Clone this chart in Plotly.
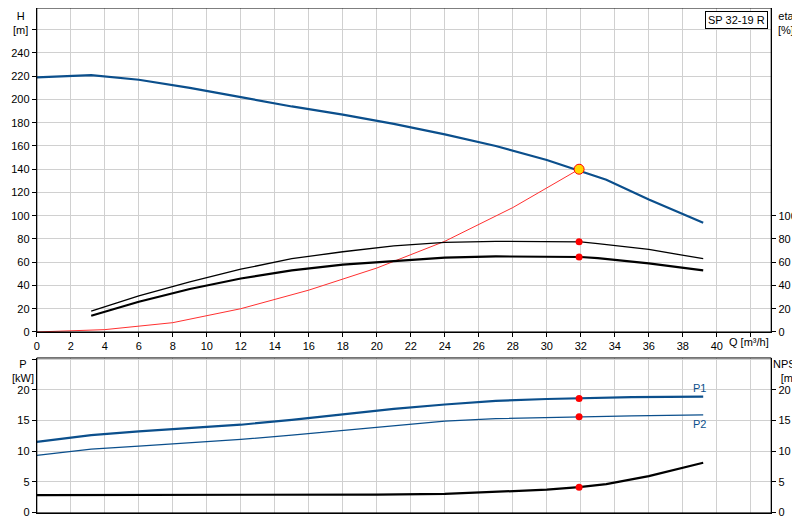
import plotly.graph_objects as go

q_h = [0, 3.2, 6, 9, 12, 15, 18, 21, 24, 27, 30, 32, 33.5, 36, 39.2]
h = [219, 221, 217, 210, 202, 194, 187, 179, 170, 160, 148, 138, 131, 114, 94]
q_e = [3.2, 6, 9, 12, 15, 18, 21, 24, 27, 30, 32, 33, 36, 39.2]
eta1 = [18, 31, 43, 54, 63, 69, 74, 77, 78, 78, 77.5, 76, 71, 63]
eta2 = [14, 26, 37, 46, 53, 58, 61, 64, 65, 65, 64.5, 63.5, 59, 53]
q_sys = [0, 4, 8, 12, 16, 20, 24, 28, 31.9]
h_sys = [0, 2, 8, 20, 36, 55, 78, 107, 140]
q_p = [0, 3.2, 6, 9, 12, 15, 18, 21, 24, 27, 30, 31.9, 35, 39.2]
p1 = [11.5, 12.6, 13.2, 13.7, 14.3, 15.1, 16.0, 16.9, 17.6, 18.2, 18.5, 18.6, 18.8, 18.9]
p2 = [9.3, 10.3, 10.8, 11.3, 11.9, 12.6, 13.4, 14.2, 14.9, 15.3, 15.5, 15.6, 15.75, 15.9]
q_n = [0, 3.2, 12, 20, 24, 27, 30, 31.9, 33.5, 36, 39.2]
npsh = [2.8, 2.8, 2.85, 2.9, 3.0, 3.3, 3.7, 4.1, 4.6, 5.9, 8.1]
q_op = 31.9
op = dict(h=140, eta1=77.5, eta2=64.5, p1=18.6, p2=15.6, npsh=4.1)

blue = "#0b4f8c"
fig = go.Figure()
L = lambda **k: fig.add_trace(go.Scatter(mode="lines", showlegend=False, hoverinfo="skip", **k))
L(x=q_sys, y=h_sys, line=dict(color="#ff3030", width=1), xaxis="x", yaxis="y")
L(x=q_h, y=h, line=dict(color=blue, width=2.2), xaxis="x", yaxis="y")
L(x=q_e, y=eta1, line=dict(color="black", width=1.3), xaxis="x", yaxis="y")
L(x=q_e, y=eta2, line=dict(color="black", width=2.2), xaxis="x", yaxis="y")
L(x=q_p, y=p1, line=dict(color=blue, width=2.2), xaxis="x2", yaxis="y2")
L(x=q_p, y=p2, line=dict(color=blue, width=1.3), xaxis="x2", yaxis="y2")
L(x=q_n, y=npsh, line=dict(color="black", width=2.2), xaxis="x2", yaxis="y2")
fig.add_trace(go.Scatter(x=[q_op, q_op], y=[op["eta1"], op["eta2"]], mode="markers",
    marker=dict(color="red", size=7), showlegend=False, xaxis="x", yaxis="y"))
fig.add_trace(go.Scatter(x=[q_op], y=[op["h"]], mode="markers",
    marker=dict(color="#ffd700", size=10, line=dict(color="red", width=1)), showlegend=False, xaxis="x", yaxis="y"))
fig.add_trace(go.Scatter(x=[q_op]*3, y=[op["p1"], op["p2"], op["npsh"]], mode="markers",
    marker=dict(color="red", size=7), showlegend=False, xaxis="x2", yaxis="y2"))
fig.add_trace(go.Scatter(x=[], y=[], xaxis="x", yaxis="y3", showlegend=False))
fig.add_trace(go.Scatter(x=[], y=[], xaxis="x2", yaxis="y4", showlegend=False))

xt = list(range(0, 44, 2))
grid = "#d0d0d0"
ax = dict(showgrid=True, gridcolor=grid, zeroline=False, showline=True, linecolor="black",
          ticks="outside", ticklen=4, tickcolor="black", tickfont=dict(size=11, color="black"),
          automargin=False)
tv = list(range(0, 281, 20))
fig.update_layout(
    width=800, height=520, margin=dict(l=0, r=0, t=0, b=0, autoexpand=False),
    paper_bgcolor="white", plot_bgcolor="white", font=dict(family="Liberation Sans", size=11),
    xaxis=dict(ax, domain=[0.036, 0.954], range=[0, 43.2], tickvals=xt,
               ticktext=[str(v) if v <= 40 else "" for v in xt], anchor="y"),
    yaxis=dict(ax, domain=[0.377, 1], range=[0, 278.7], tickvals=tv,
               ticktext=[str(v) if v <= 240 else "" for v in tv], anchor="x"),
    yaxis3=dict(ax, overlaying="y", side="right", range=[0, 278.7], anchor="x",
                tickvals=[0, 20, 40, 60, 80, 100], showgrid=False),
    xaxis2=dict(ax, domain=[0.036, 0.954], range=[0, 43.2], tickvals=xt, showticklabels=False,
                ticks="", anchor="y2"),
    yaxis2=dict(ax, domain=[0.029, 0.327], range=[-0.1, 25.2], tickvals=[0, 5, 10, 15, 20, 25],
                ticktext=["0", "5", "10", "15", "20", ""], anchor="x2"),
    yaxis4=dict(ax, overlaying="y2", side="right", range=[-0.1, 25.2], anchor="x2",
                tickvals=[0, 5, 10, 15, 20], showgrid=False),
)
fig.add_shape(type="rect", xref="paper", yref="paper", x0=0.036, x1=0.954, y0=0.377, y1=1,
              line=dict(color="black", width=1))
fig.add_shape(type="rect", xref="paper", yref="paper", x0=0.036, x1=0.954, y0=0.029, y1=0.327,
              line=dict(color="black", width=1))
A = lambda **k: fig.add_annotation(showarrow=False, font=dict(size=11, color="black"), **k)
A(text="H<br>[m]", xref="paper", yref="paper", x=0.016, y=1.0, xanchor="center", yanchor="top")
A(text="eta<br>[%]", xref="paper", yref="paper", x=0.972, y=1.0, xanchor="center", yanchor="top")
A(text="P<br>[kW]", xref="paper", yref="paper", x=0.003, y=0.33, xanchor="left", yanchor="top")
A(text="NPSH<br>[m]", xref="paper", yref="paper", x=0.998, y=0.33, xanchor="right", yanchor="top")
A(text="Q [m³/h]", xref="x", yref="paper", x=40.6, y=0.357, xanchor="left", yanchor="middle")
A(text="SP 32-19 R", xref="paper", yref="paper", x=0.95, y=0.995, xanchor="right", yanchor="top",
  bordercolor="black", borderwidth=1, borderpad=2, bgcolor="white")
fig.add_annotation(text="P1", x=39.0, y=p1[-1], xref="x2", yref="y2", showarrow=False,
                   yshift=9, font=dict(size=11, color=blue))
fig.add_annotation(text="P2", x=39.0, y=p2[-1], xref="x2", yref="y2", showarrow=False,
                   yshift=-9, font=dict(size=11, color=blue))
fig.write_html("out.html")
